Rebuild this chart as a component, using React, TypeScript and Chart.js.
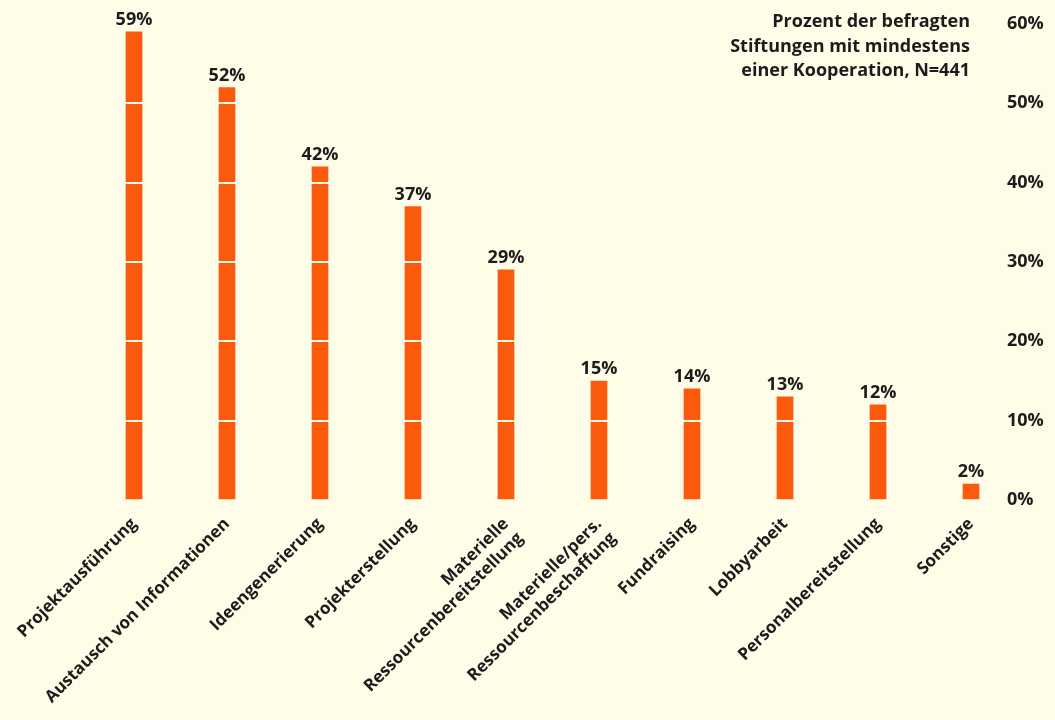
import React, { useEffect, useRef } from "react";
import { Chart, registerables } from "chart.js";

Chart.register(...registerables);

const categories: (string | string[])[] = [
  "Projektausführung",
  "Austausch von Informationen",
  "Ideengenerierung",
  "Projekterstellung",
  ["Materielle", "Ressourcenbereitstellung"],
  ["Materielle/pers.", "Ressourcenbeschaffung"],
  "Fundraising",
  "Lobbyarbeit",
  "Personalbereitstellung",
  "Sonstige",
];
const values = [59, 52, 42, 37, 29, 15, 14, 13, 12, 2];
const yTicks = [0, 10, 20, 30, 40, 50, 60];
const titleLines = [
  "Prozent der befragten",
  "Stiftungen mit mindestens",
  "einer Kooperation, N=441",
];

const FONT = "'Open Sans', 'Noto Sans', sans-serif";
const BG = "#fffde8";
const BAR = "#fb5a0c";
const TEXT = "#1c1c1c";

const valueLabels = {
  id: "valueLabels",
  afterDraw(chart: any) {
    const ctx = chart.ctx;
    const meta = chart.getDatasetMeta(0);
    ctx.save();
    ctx.font = `bold 18px ${FONT}`;
    ctx.fillStyle = TEXT;
    ctx.textAlign = "center";
    ctx.textBaseline = "bottom";
    meta.data.forEach((el: any, i: number) => {
      ctx.fillText(values[i] + "%", el.x, el.y - 3);
    });
    ctx.restore();
  },
};

const yLabels = {
  id: "yLabels",
  afterDraw(chart: any) {
    const ctx = chart.ctx;
    const scale = chart.scales.y;
    ctx.save();
    ctx.font = `bold 18px ${FONT}`;
    ctx.fillStyle = TEXT;
    ctx.textAlign = "left";
    ctx.textBaseline = "middle";
    yTicks.forEach((v) => {
      ctx.fillText(v + "%", 1007, scale.getPixelForValue(v));
    });
    ctx.restore();
  },
};

const titleText = {
  id: "titleText",
  afterDraw(chart: any) {
    const ctx = chart.ctx;
    ctx.save();
    ctx.font = `bold 18px ${FONT}`;
    ctx.fillStyle = TEXT;
    ctx.textAlign = "right";
    ctx.textBaseline = "middle";
    titleLines.forEach((t, i) => ctx.fillText(t, 970, 22 + i * 24.5));
    ctx.restore();
  },
};

export default function App() {
  const ref = useRef<HTMLCanvasElement | null>(null);
  useEffect(() => {
    document.body.style.margin = "0";
    const chart = new Chart(ref.current!, {
      type: "bar",
      data: {
        labels: categories,
        datasets: [
          {
            data: values,
            backgroundColor: BAR,
            barThickness: 16,
            borderWidth: 0,
          },
        ],
      },
      options: {
        responsive: false,
        animation: false,
        layout: { padding: { top: 24, left: 87.5, right: 0, bottom: 0 } },
        plugins: { legend: { display: false }, tooltip: { enabled: false } },
        scales: {
          x: {
            grid: { display: false },
            border: { display: false },
            ticks: {
              minRotation: 45,
              maxRotation: 45,
              autoSkip: false,
              padding: 6,
              color: TEXT,
              font: { family: FONT, size: 17, weight: "bold", lineHeight: 1.2 },
            },
            afterFit(scale: any) {
              scale.height = 220;
            },
          },
          y: {
            position: "right",
            min: 0,
            max: 60,
            afterBuildTicks(scale: any) {
              scale.ticks = yTicks.map((v) => ({ value: v }));
            },
            grid: {
              z: 1,
              drawTicks: false,
              lineWidth: 2,
              color: (c: any) => (c.tick && c.tick.value === 0 ? "rgba(0,0,0,0)" : BG),
            },
            border: { display: false },
            ticks: { display: false },
            afterFit(scale: any) {
              scale.width = 37.5;
            },
          },
        },
      },
      plugins: [valueLabels, yLabels, titleText],
    });
    return () => chart.destroy();
  }, []);
  return (
    <div style={{ width: 1055, height: 720, background: BG }}>
      <canvas ref={ref} width={1055} height={720} style={{ display: "block" }} />
    </div>
  );
}
